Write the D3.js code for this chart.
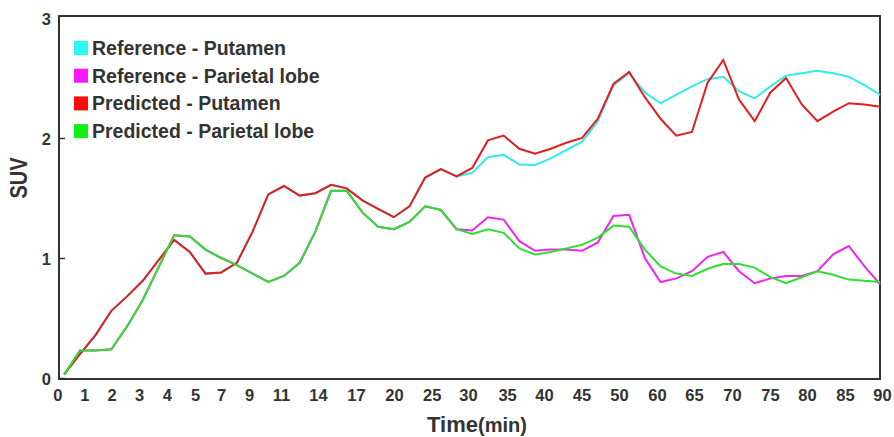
<!DOCTYPE html>
<html>
<head>
<meta charset="utf-8">
<script src="https://cdnjs.cloudflare.com/ajax/libs/d3/7.8.5/d3.min.js"></script>
<style>
  body { margin: 0; background: #fff; }
  text { font-family: "Liberation Sans", Arial, sans-serif; font-weight: bold; fill: #333; }
</style>
</head>
<body>
<svg id="chart" width="894" height="437"></svg>
<script>
// frame index of every sample (53 dynamic frames)
var frames = d3.range(53);

// tick labels (min) and the frame position where each label sits
var tickLabels = ["0","1","2","3","4","5","7","9","11","14","17","20","25","30","35","40","45","50","60","65","70","75","80","85","90"];
var tickFrames = [-0.45,1.27,3.02,4.76,6.53,8.33,9.99,11.77,13.81,16.17,18.59,21.01,23.42,25.73,28.22,30.57,32.96,35.35,37.77,40.13,42.55,44.97,47.33,49.75,52.11];

var refPutamen = [0.03,0.2,0.36,0.56,0.68,0.81,0.98,1.15,1.05,0.87,0.88,0.96,1.22,1.53,1.6,1.52,1.54,1.61,1.58,1.48,1.41,1.34,1.43,1.67,1.74,1.68,
    1.71,1.84,1.86,1.78,1.775,1.83,1.9,1.97,2.14,2.44,2.54,2.38,2.29,2.36,2.43,2.49,2.51,2.39,2.33,2.43,2.52,2.54,2.56,2.54,2.51,2.44,2.36];
var refParietal = [0.03,0.23,0.23,0.24,0.43,0.65,0.92,1.19,1.18,1.07,1.0,0.94,0.87,0.8,0.85,0.96,1.22,1.56,1.56,1.38,1.26,1.24,1.3,1.43,1.4,1.24,
    1.23,1.34,1.32,1.14,1.06,1.07,1.07,1.06,1.13,1.35,1.36,1.0,0.8,0.83,0.89,1.01,1.05,0.89,0.79,0.83,0.85,0.85,0.89,1.03,1.1,0.93,0.78];
var predPutamen = [0.03,0.2,0.36,0.56,0.68,0.81,0.98,1.15,1.05,0.87,0.88,0.96,1.22,1.53,1.6,1.52,1.54,1.61,1.58,1.48,1.41,1.34,1.43,1.67,1.74,1.68,
    1.75,1.98,2.02,1.91,1.87,1.91,1.96,2.0,2.16,2.45,2.55,2.34,2.16,2.02,2.05,2.46,2.65,2.32,2.14,2.38,2.5,2.28,2.14,2.22,2.29,2.28,2.26];
var predParietal = [0.03,0.23,0.23,0.24,0.43,0.65,0.92,1.19,1.18,1.07,1.0,0.94,0.87,0.8,0.85,0.96,1.22,1.56,1.56,1.38,1.26,1.24,1.3,1.43,1.4,1.24,
    1.2,1.24,1.21,1.08,1.03,1.05,1.08,1.11,1.17,1.27,1.26,1.07,0.93,0.87,0.85,0.91,0.95,0.95,0.92,0.84,0.79,0.84,0.89,0.86,0.82,0.81,0.8];

var seriesNames = ["Reference - Putamen","Reference - Parietal lobe","Predicted - Putamen","Predicted - Parietal lobe"];
var seriesValues = [refPutamen, refParietal, predPutamen, predParietal];
var lineColors = ["#36eaf2","#f024f0","#e41c1c","#2ee02e"];
var keyColors = ["#2ef6f6","#ff14ff","#ff0a0a","#14f014"];

var yTicks = [0,1,2,3];

var svg = d3.select("#chart");
var padL = 59, padR = 880, padT = 16, padB = 379;

var xScale = d3.scaleLinear().domain([0, 52]).range([64.3, 880.2]);
var yScale = d3.scaleLinear().domain([0, 3]).range([378, 18]);

//Frame
svg.append("rect")
    .attr("x", padL).attr("y", padT)
    .attr("width", padR - padL).attr("height", padB - padT)
    .attr("fill", "none")
    .attr("stroke", "#333")
    .attr("stroke-width", 2);

//Lines
var line = d3.line()
    .x(function(d, i) { return xScale(frames[i]); })
    .y(function(d) { return yScale(d); });

svg.selectAll("path.series")
    .data(seriesValues)
    .enter()
    .append("path")
    .attr("class", "series")
    .attr("d", line)
    .attr("fill", "none")
    .attr("stroke", function(d, i) { return lineColors[i]; })
    .attr("stroke-width", 2)
    .attr("stroke-linejoin", "miter");

//X axis labels
var xAxis = d3.axisBottom(xScale)
    .tickValues(tickFrames)
    .tickFormat(function(d, i) { return tickLabels[i]; })
    .tickSize(0)
    .tickPadding(10);
var gx = svg.append("g")
    .attr("transform", "translate(0," + padB + ")")
    .call(xAxis);
gx.select(".domain").remove();
gx.selectAll("text")
    .attr("font-size", "16.5px")
    .attr("fill", "#333");

//Y axis
var yAxis = d3.axisLeft(yScale)
    .tickValues(yTicks)
    .tickFormat(d3.format("d"))
    .tickSizeInner(-6)
    .tickSizeOuter(0)
    .tickPadding(8);
var gy = svg.append("g")
    .attr("transform", "translate(" + padL + ",0)")
    .call(yAxis);
gy.select(".domain").remove();
gy.selectAll("line").attr("stroke", "#333").attr("stroke-width", 1.5);
gy.selectAll(".tick").filter(function(d) { return d === 3; }).select("line").remove();
gy.selectAll("text")
    .attr("font-size", "16.5px")
    .attr("fill", "#333")
    .attr("dy", "0.4em");

//Axis titles
svg.append("text")
    .attr("transform", "translate(27,178) rotate(-90) scale(1,1.15)")
    .attr("text-anchor", "middle")
    .attr("font-size", "20px")
    .text("SUV");

var xt = svg.append("text")
    .attr("x", 477)
    .attr("y", 432)
    .attr("text-anchor", "middle");
xt.append("tspan").attr("font-size", "22px").text("Time");
xt.append("tspan").attr("font-size", "20px").text("(min)");

//Legend
var key = svg.selectAll("g.key")
    .data(seriesNames)
    .enter()
    .append("g")
    .attr("class", "key")
    .attr("transform", function(d, i) { return "translate(74," + (48 + i * 27.7) + ")"; });
key.append("rect")
    .attr("x", 0).attr("y", -7)
    .attr("width", 14).attr("height", 14)
    .attr("fill", function(d, i) { return keyColors[i]; });
key.append("text")
    .attr("x", 18)
    .attr("y", 7)
    .attr("font-size", "19.5px")
    .text(function(d) { return d; });
</script>
</body>
</html>
